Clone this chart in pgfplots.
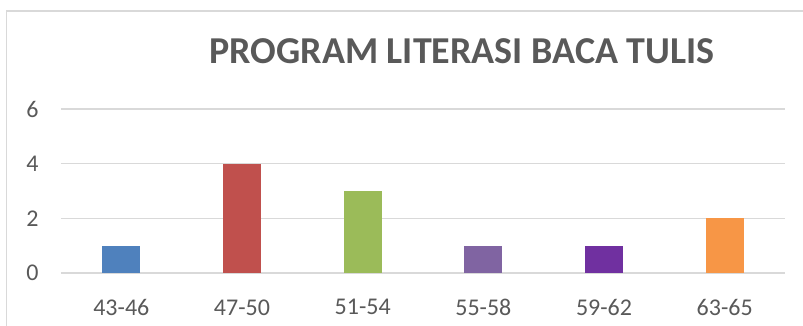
\documentclass[border=0pt]{standalone}
\usepackage{pgfplots}
\pgfplotsset{compat=1.18}
\usepackage{fontspec}
\setmainfont{Carlito}
\definecolor{txt}{HTML}{595959}
\definecolor{gridc}{HTML}{D9D9D9}
\definecolor{c1}{HTML}{4F81BD}
\definecolor{c2}{HTML}{C0504D}
\definecolor{c3}{HTML}{9BBB59}
\definecolor{c4}{HTML}{8064A2}
\definecolor{c5}{HTML}{7030A0}
\definecolor{c6}{HTML}{F79646}
\begin{document}
\begin{tikzpicture}[x=1pt,y=1pt]
\useasboundingbox (0,0) rectangle (803,326);
\draw[gridc, line width=1.2pt] (6.5,-5) -- (6.5,315) -- (810,315);
\node[font=\fontsize{38}{44}\selectfont\bfseries, text=txt] at (462,275) {PROGRAM LITERASI BACA TULIS};
\begin{axis}[
  at={(61pt,53pt)}, anchor=south west,
  scale only axis, width=724pt, height=164pt,
  xmin=-0.5, xmax=5.5, ymin=0, ymax=6,
  axis line style={draw=none},
  major tick length=0pt,
  xtick style={draw=none}, ytick style={draw=none},
  ytick={0,2,4,6},
  xmajorgrids=false, xminorgrids=false,
  major x grid style={draw=none},
  ymajorgrids=true,
  major y grid style={draw=gridc, line width=1.5pt},
  xtick={0,1,2,3,4,5},
  xticklabels={43-46,47-50,51-54,55-58,59-62,63-65},
  ticklabel style={font=\fontsize{24}{28}\selectfont, text=txt},
  /pgf/number format/assume math mode=true,
  yticklabel style={xshift=-19pt},
  xticklabel style={yshift=-23pt},
  clip=false,
]
\addplot[ybar, bar width=38pt, fill=c1, draw=none] coordinates {(0,1)};
\addplot[ybar, bar width=38pt, fill=c2, draw=none] coordinates {(1,4)};
\addplot[ybar, bar width=38pt, fill=c3, draw=none] coordinates {(2,3)};
\addplot[ybar, bar width=38pt, fill=c4, draw=none] coordinates {(3,1)};
\addplot[ybar, bar width=38pt, fill=c5, draw=none] coordinates {(4,1)};
\addplot[ybar, bar width=38pt, fill=c6, draw=none] coordinates {(5,2)};
\end{axis}
\end{tikzpicture}
\end{document}
